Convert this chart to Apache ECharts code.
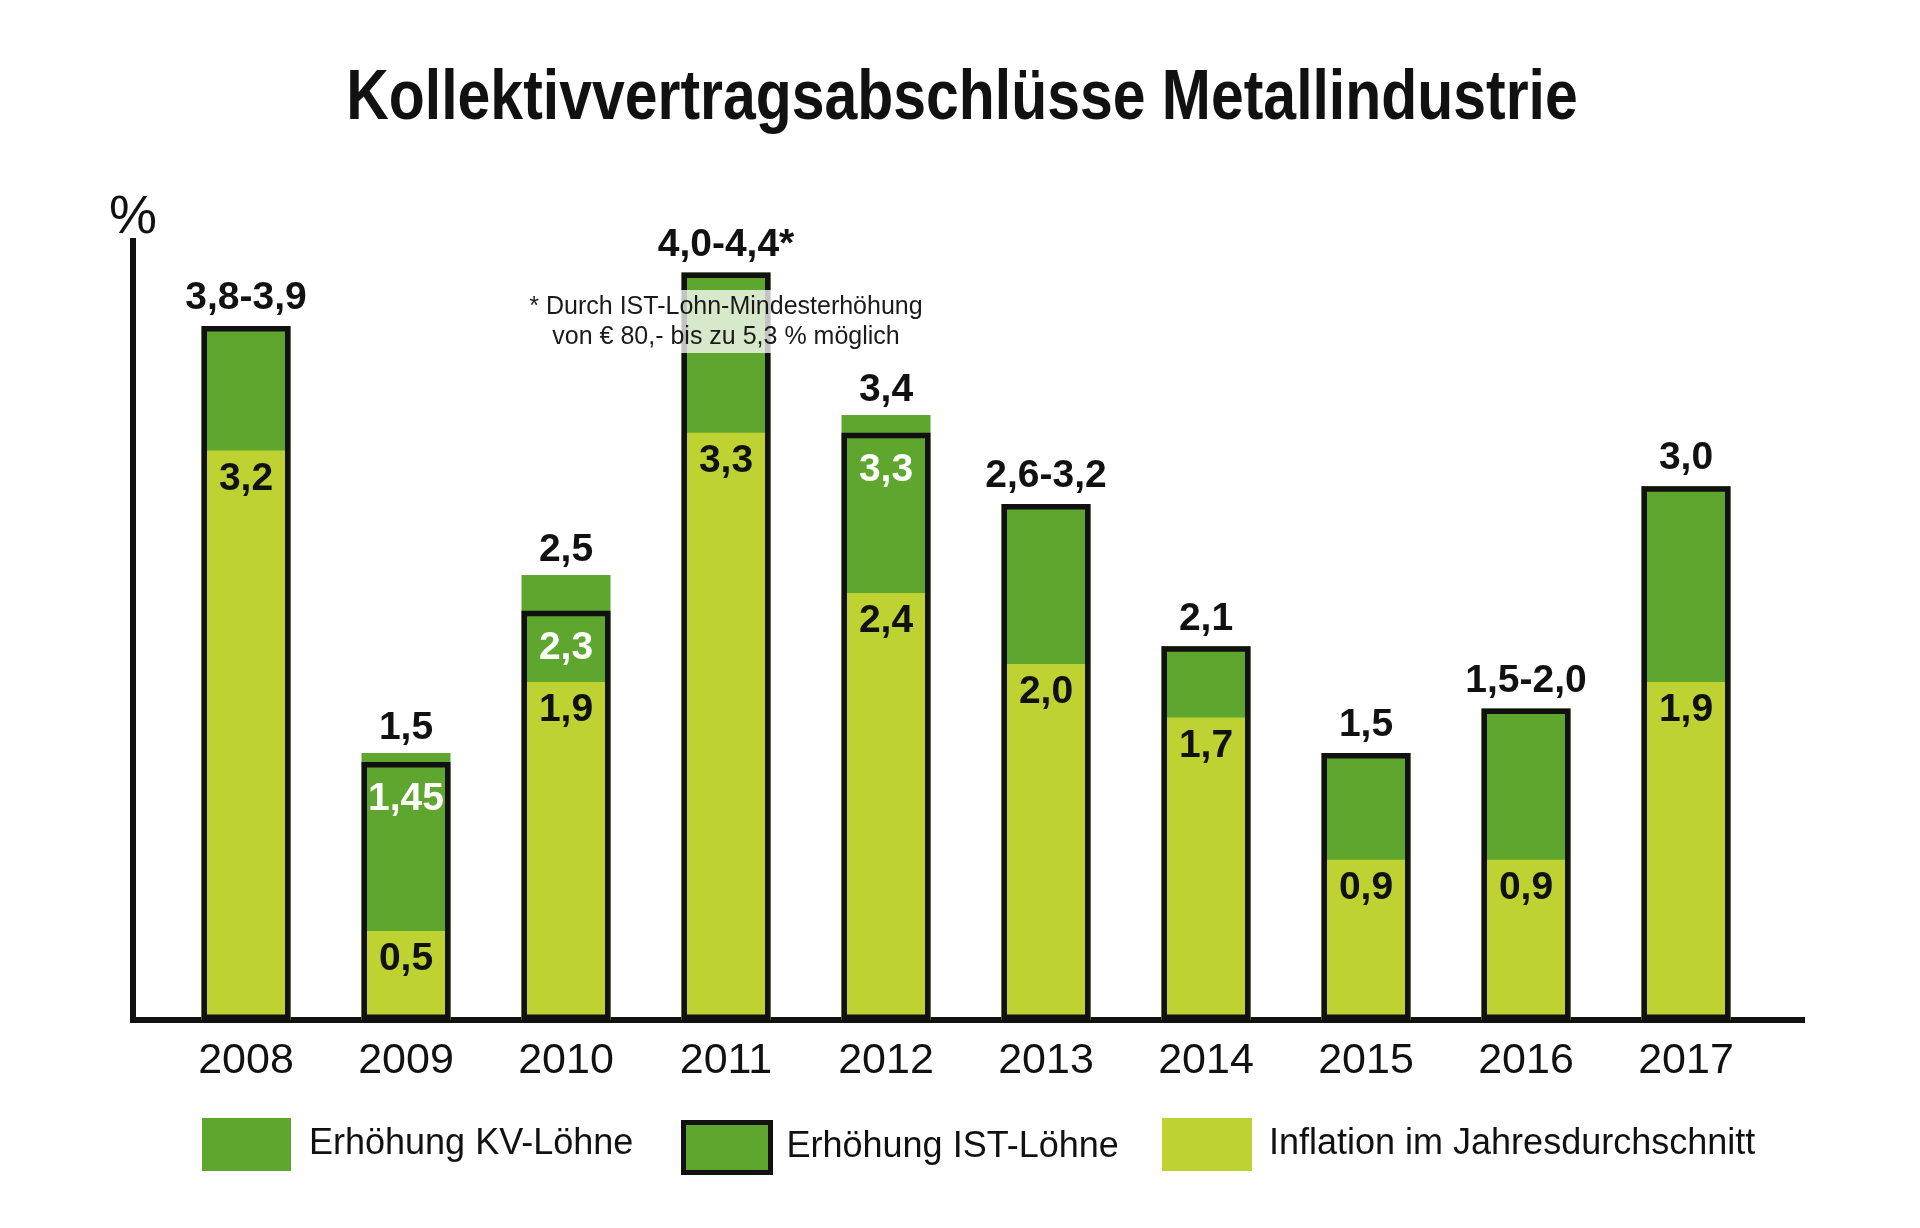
<!DOCTYPE html>
<html>
<head>
<meta charset="utf-8">
<title>Kollektivvertragsabschlüsse Metallindustrie</title>
<script src="https://cdn.jsdelivr.net/npm/echarts@6/dist/echarts.min.js"></script>
<style>
html,body{margin:0;padding:0;background:#fff;}
#chart{width:1920px;height:1228px;}
</style>
</head>
<body>
<div id="chart"></div>
<script>
// Daten (in %)
var years = ['2008', '2009', '2010', '2011', '2012', '2013', '2014', '2015', '2016', '2017'];
var kvValues = [3.9, 1.5, 2.5, 4.2, 3.4, 2.9, 2.1, 1.5, 1.75, 3.0];      // Erhöhung KV-Löhne (Balkenhöhe)
var istValues = [3.9, 1.45, 2.3, 4.2, 3.3, 2.9, 2.1, 1.5, 1.75, 3.0];    // Erhöhung IST-Löhne (Rahmen)
var inflation = [3.2, 0.5, 1.9, 3.3, 2.4, 2.0, 1.7, 0.9, 0.9, 1.9];      // Inflation im Jahresdurchschnitt
var kvLabels = ['3,8-3,9', '1,5', '2,5', '4,0-4,4*', '3,4', '2,6-3,2', '2,1', '1,5', '1,5-2,0', '3,0'];
var istLabels = ['', '1,45', '2,3', '', '3,3', '', '', '', '', ''];
var inflationLabels = ['3,2', '0,5', '1,9', '3,3', '2,4', '2,0', '1,7', '0,9', '0,9', '1,9'];

var GREEN = '#5fa62e';
var LIGHT = '#bed232';
var INK = '#111111';
var SANS = "'Liberation Sans', Arial, sans-serif";

var myChart = echarts.init(document.getElementById('chart'));

var option = {
    animation: false,
    backgroundColor: '#ffffff',
    legend: [
        {   // KV
            left: 202, top: 1118, padding: 0,
            itemWidth: 89, itemHeight: 53,
            icon: 'rect',
            data: ['Erhöhung KV-Löhne'],
            textStyle: {color: INK, fontFamily: SANS, fontSize: 36, padding: [4, 0, 0, 13]}
        },
        {   // IST mit Rahmen
            left: 681, top: 1120, padding: 0,
            itemWidth: 87, itemHeight: 50,
            icon: 'rect',
            data: [{name: 'Erhöhung IST-Löhne', itemStyle: {color: GREEN, borderColor: INK, borderWidth: 5}}],
            textStyle: {color: INK, fontFamily: SANS, fontSize: 36, padding: [4, 0, 0, 11]}
        },
        {   // Inflation
            left: 1162, top: 1118, padding: 0,
            itemWidth: 90, itemHeight: 53,
            icon: 'rect',
            data: ['Inflation im Jahresdurchschnitt'],
            textStyle: {color: INK, fontFamily: SANS, fontSize: 36, padding: [4, 0, 0, 12]}
        }
    ],
    grid: [
        {left: 166, right: 154, top: 237, bottom: 208},   // Balken
        {left: 133, right: 118, top: 241, bottom: 208}    // nur Achsenlinien
    ],
    xAxis: [
        {
            type: 'category',
            gridIndex: 0,
            data: years,
            axisLine: {show: false},
            axisTick: {show: false},
            splitLine: {show: false},
            axisLabel: {
                color: INK,
                fontFamily: SANS,
                fontSize: 43,
                margin: 20
            }
        },
        {
            type: 'value',
            gridIndex: 1,
            min: 0, max: 1,
            axisLine: {show: true, lineStyle: {color: INK, width: 6, cap: 'square'}},
            axisTick: {show: false},
            axisLabel: {show: false},
            splitLine: {show: false}
        }
    ],
    yAxis: [
        {
            type: 'value',
            gridIndex: 0,
            min: 0, max: 4.4,
            show: false
        },
        {
            type: 'value',
            gridIndex: 1,
            min: 0, max: 1,
            name: '%',
            nameLocation: 'end',
            nameGap: -4,
            nameTextStyle: {color: INK, fontFamily: SANS, fontSize: 54, align: 'center', verticalAlign: 'bottom'},
            axisLine: {show: true, lineStyle: {color: INK, width: 6, cap: 'square'}},
            axisTick: {show: false},
            axisLabel: {show: false},
            splitLine: {show: false}
        }
    ],
    series: [
        {
            name: 'Erhöhung KV-Löhne',
            type: 'bar',
            xAxisIndex: 0, yAxisIndex: 0,
            barWidth: 89,
            barGap: '-100%',
            itemStyle: {color: GREEN},
            data: kvValues.map(function (v, i) {
                // über dem Rahmen etwas mehr Abstand
                return {value: v, label: {distance: istValues[i] === v ? 8 : 5}};
            }),
            label: {
                show: true,
                position: 'top',
                formatter: function (p) { return kvLabels[p.dataIndex]; },
                color: INK,
                fontFamily: SANS,
                fontWeight: 'bold',
                fontSize: 39
            }
        },
        {
            name: 'Inflation im Jahresdurchschnitt',
            type: 'bar',
            xAxisIndex: 0, yAxisIndex: 0,
            barWidth: 89,
            barGap: '-100%',
            itemStyle: {color: LIGHT},
            data: inflation,
            label: {
                show: true,
                position: 'insideTop',
                distance: 9,
                formatter: function (p) { return inflationLabels[p.dataIndex]; },
                color: INK,
                fontFamily: SANS,
                fontWeight: 'bold',
                fontSize: 39
            }
        },
        {
            name: 'Erhöhung IST-Löhne',
            type: 'bar',
            xAxisIndex: 0, yAxisIndex: 0,
            barWidth: 89,
            barGap: '-100%',
            itemStyle: {color: 'rgba(0,0,0,0)', borderColor: INK, borderWidth: 5.5},
            data: istValues,
            label: {
                show: true,
                position: 'insideTop',
                distance: 18,
                formatter: function (p) { return istLabels[p.dataIndex]; },
                color: '#ffffff',
                fontFamily: SANS,
                fontWeight: 'bold',
                fontSize: 39
            }
        }
    ]
};
myChart.setOption(option);

// Titel (schmal gesetzt) und Fußnote über dem Balken 2011
var px = myChart.convertToPixel({xAxisIndex: 0}, '2011');
myChart.setOption({
    graphic: [
        {
            type: 'text',
            x: 962, y: 64,
            scaleX: 0.83,
            style: {
                text: 'Kollektivvertragsabschlüsse Metallindustrie',
                align: 'center',
                verticalAlign: 'top',
                font: 'bold 71px ' + SANS,
                fill: INK
            }
        },
        {
            type: 'rect',
            z: 10,
            shape: {x: px - 47, y: 290, width: 94, height: 63},
            style: {fill: 'rgba(255,255,255,0.75)'}
        },
        {
            type: 'text',
            z: 11,
            x: px, y: 292,
            style: {
                text: '* Durch IST-Lohn-Mindesterhöhung\nvon € 80,- bis zu 5,3 % möglich',
                align: 'center',
                verticalAlign: 'top',
                lineHeight: 30,
                font: '25px ' + SANS,
                fill: '#1a1a1a'
            }
        }
    ]
});
</script>
</body>
</html>
